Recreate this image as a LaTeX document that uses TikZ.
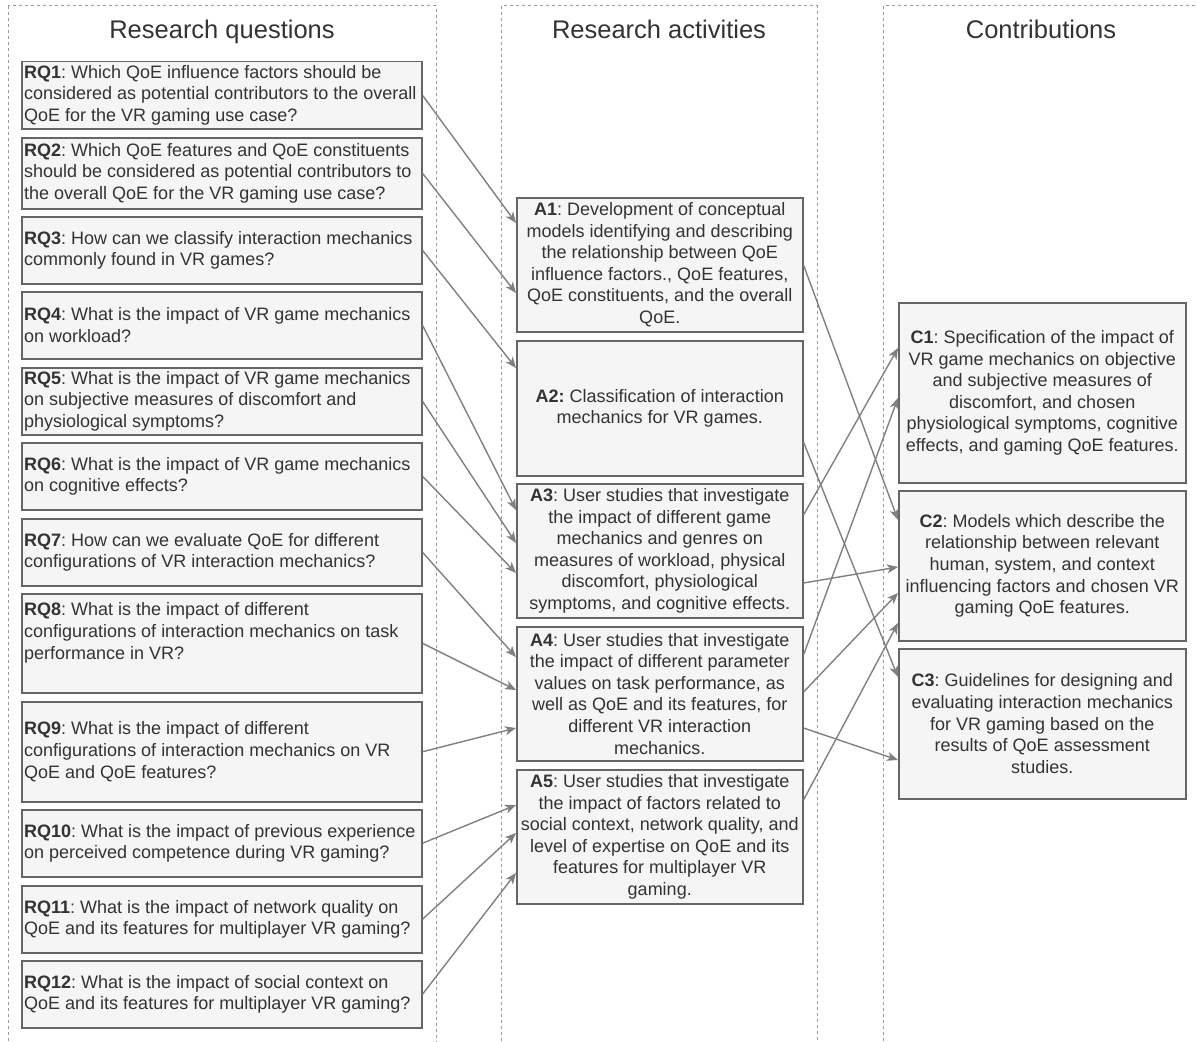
\documentclass[tikz,border=0pt]{standalone}
\usepackage{fontspec}
\setmainfont{Liberation Sans}
\usetikzlibrary{arrows.meta,calc}
\definecolor{boxfill}{HTML}{F5F5F5}
\definecolor{boxline}{HTML}{666666}
\definecolor{txt}{HTML}{333333}
\definecolor{arrc}{HTML}{808080}
\definecolor{dashc}{HTML}{9A9A9A}
\frenchspacing
\begin{document}
\frenchspacing
\begin{tikzpicture}[x=1pt,y=-1pt,
  col/.style={draw=dashc, line width=1pt, dash pattern=on 3pt off 3pt},
  title/.style={text=txt, font=\fontsize{25.5}{30}\selectfont, inner sep=0pt, anchor=base},
  box/.style={draw=boxline, fill=boxfill, line width=1.5pt, inner sep=0pt, anchor=north west},
  rq/.style={box, minimum width=400pt},
  act/.style={box, minimum width=286pt, text=txt, align=center, font=\fontsize{18}{21.6}\selectfont\frenchspacing},
  con/.style={box, minimum width=287pt, text=txt, align=center, font=\fontsize{18}{21.6}\selectfont\frenchspacing},
  lbl/.style={text=txt, font=\fontsize{18}{21.6}\selectfont\frenchspacing, align=left, anchor=west, inner sep=0pt},
  arr/.style={draw=arrc, line width=1.4pt, -{Stealth[length=11pt,width=9pt,inset=3pt]}}
]
\useasboundingbox (0,0) rectangle (1196,1041);
\begin{scope}
\clip (0,0) rectangle (1196,1041);
\draw[col] (8,6) rectangle (436,1070);
\draw[col] (501,6) rectangle (817,1070);
\draw[col] (883,6) rectangle (1199,1070);
\end{scope}

\node[title] (t1) at (222,39) {Research questions};
\node[title] (t2) at (659,39) {Research activities};
\node[title] (t3) at (1041,39) {Contributions};

% research questions
\node[rq, minimum height=67pt] (rq1) at (21,61) {};
\node[rq, minimum height=71pt] (rq2) at (21,137) {};
\node[rq, minimum height=67pt] (rq3) at (21,216) {};
\node[rq, minimum height=67pt] (rq4) at (21,291) {};
\node[rq, minimum height=67pt] (rq5) at (21,367) {};
\node[rq, minimum height=67pt] (rq6) at (21,442) {};
\node[rq, minimum height=67pt] (rq7) at (21,518) {};
\node[rq, minimum height=99pt] (rq8) at (21,593) {};
\node[rq, minimum height=100pt] (rq9) at (21,701) {};
\node[rq, minimum height=67pt] (rq10) at (21,809) {};
\node[rq, minimum height=67pt] (rq11) at (21,885) {};
\node[rq, minimum height=67pt] (rq12) at (21,960) {};

\node[lbl] (rq1t) at ([xshift=3pt]rq1.west) {\textbf{RQ1}: Which QoE influence factors should be\\considered as potential contributors to the overall\\QoE for the VR gaming use case?};
\node[lbl] (rq2t) at ([xshift=3pt]rq2.west) {\textbf{RQ2}: Which QoE features and QoE constituents\\should be considered as potential contributors to\\the overall QoE for the VR gaming use case?};
\node[lbl] (rq3t) at ([xshift=3pt]rq3.west) {\textbf{RQ3}: How can we classify interaction mechanics\\commonly found in VR games?};
\node[lbl] (rq4t) at ([xshift=3pt]rq4.west) {\textbf{RQ4}: What is the impact of VR game mechanics\\on workload?};
\node[lbl] (rq5t) at ([xshift=3pt]rq5.west) {\textbf{RQ5}: What is the impact of VR game mechanics\\on subjective measures of discomfort and\\physiological symptoms?};
\node[lbl] (rq6t) at ([xshift=3pt]rq6.west) {\textbf{RQ6}: What is the impact of VR game mechanics\\on cognitive effects?};
\node[lbl] (rq7t) at ([xshift=3pt]rq7.west) {\textbf{RQ7}: How can we evaluate QoE for different\\configurations of VR interaction mechanics?};
\node[lbl] (rq8t) at ([xshift=3pt,yshift=10.5pt]rq8.west) {\textbf{RQ8}: What is the impact of different\\configurations of interaction mechanics on task\\performance in VR?};
\node[lbl] (rq9t) at ([xshift=3pt]rq9.west) {\textbf{RQ9}: What is the impact of different\\configurations of interaction mechanics on VR\\QoE and QoE features?};
\node[lbl] (rq10t) at ([xshift=3pt]rq10.west) {\textbf{RQ10}: What is the impact of previous experience\\on perceived competence during VR gaming?};
\node[lbl] (rq11t) at ([xshift=3pt]rq11.west) {\textbf{RQ11}: What is the impact of network quality on\\QoE and its features for multiplayer VR gaming?};
\node[lbl] (rq12t) at ([xshift=3pt]rq12.west) {\textbf{RQ12}: What is the impact of social context on\\QoE and its features for multiplayer VR gaming?};

% research activities
\node[act, minimum height=134pt] (A1) at (516,197) {\textbf{A1}: Development of conceptual\\models identifying and describing\\the relationship between QoE\\influence factors., QoE features,\\QoE constituents, and the overall\\QoE.};
\node[act, minimum height=135pt] (A2) at (516,340) {\textbf{A2:} Classification of interaction\\mechanics for VR games.};
\node[act, minimum height=134pt] (A3) at (516,483) {\textbf{A3}: User studies that investigate\\the impact of different game\\mechanics and genres on\\measures of workload, physical\\discomfort, physiological\\symptoms, and cognitive effects.};
\node[act, minimum height=134pt] (A4) at (516,626) {\textbf{A4}: User studies that investigate\\the impact of different parameter\\values on task performance, as\\well as QoE and its features, for\\different VR interaction\\mechanics.};
\node[act, minimum height=134pt] (A5) at (516,769) {\textbf{A5}: User studies that investigate\\the impact of factors related to\\social context, network quality, and\\level of expertise on QoE and its\\features for multiplayer VR\\gaming.};

% contributions
\node[con, minimum height=180pt] (C1) at (898,302) {\textbf{C1}: Specification of the impact of\\VR game mechanics on objective\\and subjective measures of\\discomfort, and chosen\\physiological symptoms, cognitive\\effects, and gaming QoE features.};
\node[con, minimum height=150pt] (C2) at (898,490) {\textbf{C2}: Models which describe the\\relationship between relevant\\human, system, and context\\influencing factors and chosen VR\\gaming QoE features.};
\node[con, minimum height=150pt] (C3) at (898,648) {\textbf{C3}: Guidelines for designing and\\evaluating interaction mechanics\\for VR gaming based on the\\results of QoE assessment\\studies.};

% RQ -> A
\draw[arr] (rq1.east) -- (A1.west |- 0,223);
\draw[arr] (rq2.east) -- (A1.west |- 0,293);
\draw[arr] (rq3.east) -- (A2.west |- 0,368);
\draw[arr] (rq4.east) -- (A3.west |- 0,510);
\draw[arr] (rq5.east) -- (A3.west |- 0,543);
\draw[arr] (rq6.east) -- (A3.west |- 0,573);
\draw[arr] (rq7.east) -- (A4.west |- 0,657);
\draw[arr] (rq8.east) -- (A4.west |- 0,690);
\draw[arr] (rq9.east) -- (A4.west |- 0,728);
\draw[arr] (rq10.east) -- (A5.west |- 0,805);
\draw[arr] (rq11.east) -- (A5.west |- 0,833);
\draw[arr] (rq12.east) -- (A5.west |- 0,873);

% A -> C
\draw[arr] (A1.east |- 0,265) -- (C2.west |- 0,520);
\draw[arr] (A2.east |- 0,442) -- (C3.west |- 0,677);
\draw[arr] (A3.east |- 0,515) -- (C1.west |- 0,348);
\draw[arr] (A3.east |- 0,583) -- (C2.west |- 0,567);
\draw[arr] (A4.east |- 0,655) -- (C1.west |- 0,398);
\draw[arr] (A4.east |- 0,692) -- (C2.west |- 0,593);
\draw[arr] (A4.east |- 0,728) -- (C3.west |- 0,760);
\draw[arr] (A5.east |- 0,800) -- (C2.west |- 0,623);
\end{tikzpicture}
\end{document}
